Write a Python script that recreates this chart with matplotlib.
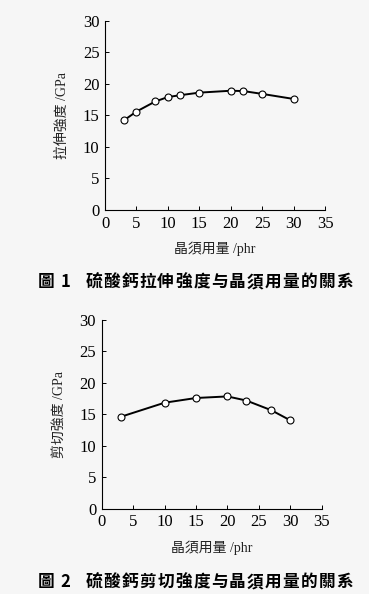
import matplotlib.pyplot as plt

# 圖1 拉伸強度
x1 = [3, 5, 8, 10, 12, 15, 20, 22, 25, 30]
y1 = [14.2, 15.6, 17.2, 17.9, 18.2, 18.6, 18.9, 18.85, 18.4, 17.6]

# 圖2 剪切強度
x2 = [3, 10, 15, 20, 23, 27, 30]
y2 = [14.6, 16.85, 17.6, 17.85, 17.2, 15.65, 14.05]

xticks = [0, 5, 10, 15, 20, 25, 30, 35]
yticks = [0, 5, 10, 15, 20, 25, 30]

ylabel1 = '拉伸強度 /GPa'
ylabel2 = '剪切強度 /GPa'
xlabel = '晶須用量 /phr'
caption1 = ['圖', '1', '硫', '酸', '鈣', '拉', '伸', '強', '度', '与', '晶', '須', '用', '量', '的', '關', '系']
caption2 = ['圖', '2', '硫', '酸', '鈣', '剪', '切', '強', '度', '与', '晶', '須', '用', '量', '的', '關', '系']

W, H = 369, 594
bg = '#f6f6f6'
lab_font = ['Liberation Serif', 'Noto Sans CJK TC']

fig = plt.figure(figsize=(W / 100, H / 100), dpi=100, facecolor=bg)


def panel(rect, x, y, ylabel, ylab_x, xlab_y):
    ax = fig.add_axes(rect)
    ax.set_facecolor(bg)
    ax.plot(x, y, color='black', lw=1.4, marker='o', ms=5,
            mfc='white', mec='black', mew=0.8)
    ax.set_xlim(0, 35)
    ax.set_ylim(0, 30)
    ax.set_xticks(xticks)
    ax.set_yticks(yticks)
    for s in ['top', 'right']:
        ax.spines[s].set_visible(False)
    for s in ['left', 'bottom']:
        ax.spines[s].set_linewidth(0.8)
    ax.tick_params(direction='in', length=3, width=0.7, pad=4,
                   labelsize=12)
    for t in ax.get_xticklabels() + ax.get_yticklabels():
        t.set_fontfamily('Liberation Serif')
    ax.set_ylabel(ylabel, family=lab_font, fontsize=10, color='#222222')
    ax.yaxis.set_label_coords(ylab_x, 0.5)
    ax.set_xlabel(xlabel, family=lab_font, fontsize=10, color='#222222')
    ax.xaxis.set_label_coords(0.5, xlab_y)
    return ax


panel([105 / W, 1 - 210 / H, 220 / W, 189.3 / H], x1, y1, ylabel1, -0.165, -0.165)
panel([101.7 / W, 1 - 508.7 / H, 220 / W, 188.7 / H], x2, y2, ylabel2, -0.162, -0.17)


def caption(chars, yc):
    xs = [46, 65] + [94 + 17.9 * i for i in range(len(chars) - 2)]
    for c, xp in zip(chars, xs):
        fig.text(xp / W, 1 - yc / H, c, ha='center', va='center',
                 fontsize=12, fontweight='bold',
                 family=['Noto Sans CJK TC', 'DejaVu Sans'])


caption(caption1, 282)
caption(caption2, 582)

fig.savefig('out.png', dpi=100, facecolor=bg)
